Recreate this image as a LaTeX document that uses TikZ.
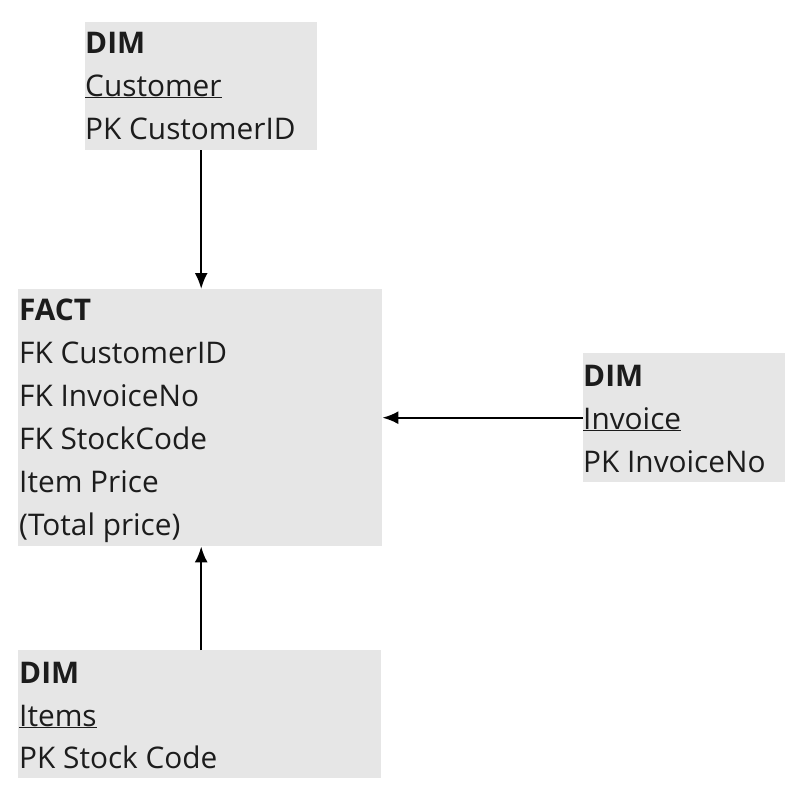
\documentclass[tikz,border=0pt]{standalone}
\usepackage{fontspec}
\setmainfont{Open Sans}
\usetikzlibrary{arrows.meta}
\definecolor{boxfill}{HTML}{E6E6E6}
\definecolor{ink}{HTML}{1C1C1C}
\tikzset{
  tbl/.style={fill=boxfill, draw=none, inner sep=0pt, anchor=north west},
  txt/.style={anchor=base west, inner sep=0pt, text=ink, font=\fontsize{29.8}{36}\selectfont},
  conn/.style={line width=2.2pt, draw=black, -{Latex[length=16pt,width=13pt]}}
}
\begin{document}
\begin{tikzpicture}[x=1pt,y=-1pt]
\useasboundingbox (0,0) rectangle (796,787);
% boxes
\node[tbl, minimum width=232pt, minimum height=128pt] (cust) at (85,22) {};
\node[tbl, minimum width=364pt, minimum height=257pt] (fact) at (18,289) {};
\node[tbl, minimum width=202pt, minimum height=129pt] (inv) at (583,353) {};
\node[tbl, minimum width=363pt, minimum height=128pt] (items) at (18,650) {};
% customer text
\node[txt] (c1) at (85,53) {\bfseries DIM};
\node[txt] (c2) at (85,96) {\underline{Customer}};
\node[txt] (c3) at (85,139) {PK CustomerID};
% fact text
\node[txt] (f1) at (19,320) {\bfseries FACT};
\node[txt] (f2) at (19,363) {FK CustomerID};
\node[txt] (f3) at (19,406) {FK InvoiceNo};
\node[txt] (f4) at (19,449) {FK StockCode};
\node[txt] (f5) at (19,492) {Item Price};
\node[txt] (f6) at (19,535) {(Total price)};
% invoice text
\node[txt] (i1) at (583,386) {\bfseries DIM};
\node[txt] (i2) at (583,429) {\underline{Invoice}};
\node[txt] (i3) at (583,472) {PK InvoiceNo};
% items text
\node[txt] (t1) at (19,683) {\bfseries DIM};
\node[txt] (t2) at (19,726) {\underline{Items}};
\node[txt] (t3) at (19,768) {PK Stock Code};
% connectors
\draw[conn] (cust.south) -- (cust.south |- fact.north);
\draw[conn] (inv.west) -- (inv.west -| fact.east);
\draw[conn] (items.north -| cust.south) -- (fact.south -| cust.south);
\end{tikzpicture}
\end{document}
